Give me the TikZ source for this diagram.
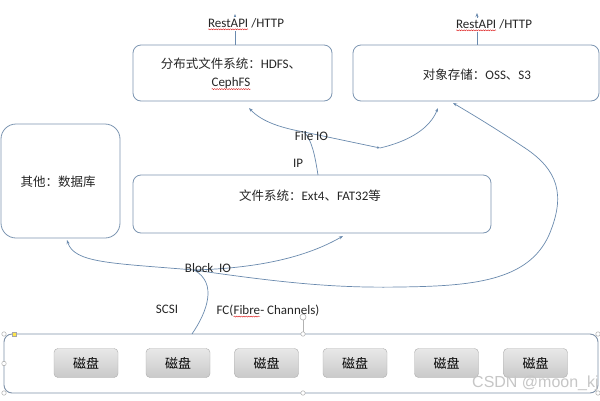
\documentclass[tikz,border=0pt]{standalone}
\usepackage{fontspec}
\setmainfont{Carlito}
\newfontfamily\cjk{Noto Sans CJK SC}
\newfontfamily\wmfont{Liberation Sans}
\usetikzlibrary{arrows.meta,decorations.pathmorphing,calc}
\definecolor{ln}{HTML}{6A8AAE}
\definecolor{bd}{HTML}{7D96B2}
\newcommand\sq[1]{\tikz[baseline=(sqw.base)]{\node[inner sep=0pt,outer sep=0pt](sqw){#1};\draw[red!85!black,line width=0.35pt,decorate,decoration={snake,amplitude=0.55pt,segment length=2.4pt}]([yshift=-2.3pt]sqw.base west)--([yshift=-2.3pt]sqw.base east);}}
\begin{document}
\begin{tikzpicture}[x=1pt,y=-1pt,
  box/.style={draw=bd,line width=0.8pt,rounded corners=8pt,fill=white},
  lbl/.style={font=\fontsize{13}{18}\selectfont,inner sep=0pt,text=black!85},
  cj/.style={font=\cjk\fontsize{12.5}{18}\selectfont,inner sep=0pt,text=black!85},
  plain/.style={draw=ln,line width=0.7pt},
  conn/.style={draw=ln,line width=0.7pt,-{Stealth[length=4pt,width=3pt]}},
  disk/.style={draw=gray!65,rounded corners=4pt,top color=gray!18,bottom color=gray!42,minimum width=64pt,minimum height=29pt,inner sep=0pt,font=\cjk\fontsize{13}{15}\selectfont},
  hnd/.style={circle,draw=gray!75,fill=white,inner sep=0pt,minimum size=4.5pt}]
\useasboundingbox (0,0) rectangle (600,400);
\fill[white] (0,0) rectangle (600,400);

% boxes
\node[box,minimum width=199pt,minimum height=56pt] (hdfs) at (232.5,73) {};
\node[box,minimum width=246pt,minimum height=56pt] (oss) at (476,73) {};
\node[box,rounded corners=15pt,minimum width=119pt,minimum height=114pt] (db) at (60.5,181) {};
\node[box,minimum width=358pt,minimum height=58pt] (fs) at (312,204) {};

\node[lbl,align=center] (hdfst) at (231,74) {{\cjk\fontsize{12.5}{18}\selectfont 分布式文件系统：}HDFS{\cjk\fontsize{12.5}{18}\selectfont 、}\\\sq{CephFS}};
\node[lbl] (osst) at (477,75) {{\cjk\fontsize{12.5}{18}\selectfont 对象存储：}OSS{\cjk\fontsize{12.5}{18}\selectfont 、}S3};
\node[cj] (dbt) at (58,182) {其他：数据库};
\node[lbl] (fst) at (310,196) {{\cjk\fontsize{12.5}{18}\selectfont 文件系统：}Ext4{\cjk\fontsize{12.5}{18}\selectfont 、}FAT32{\cjk\fontsize{12.5}{18}\selectfont 等}};

% RestAPI arrows
\coordinate (up1) at (235,14);
\coordinate (up2) at (477,13);
\draw[conn] (up1 |- hdfs.north) -- (up1);
\draw[conn] (up2 |- oss.north) -- (up2);
\node[lbl,fill=white,inner sep=1pt] (r1) at (246,24) {\sq{RestAPI} /HTTP};
\node[lbl,fill=white,inner sep=1pt] (r2) at (494,25) {\sq{RestAPI} /HTTP};

% bottom storage area
\node[draw=bd!80!gray,line width=0.9pt,rounded corners=8pt,fill=white,minimum width=594pt,minimum height=59pt] (bot) at (301,363.5) {};
\foreach \i/\x in {1/86,2/178,3/266.5,4/355,5/446.5,6/535.5}
  \node[disk] (d\i) at (\x,363) {磁盘};

% handles
\node[hnd] (h1) at (4,334) {};
\node[hnd] (h2) at (4,363.5) {};
\node[hnd] (h3) at (4,393) {};
\node[hnd] (h4) at (303,334) {};
\node[hnd] (h5) at (303,393) {};
\node[hnd] (h6) at (598,334) {};
\node[hnd] (h7) at (598,393) {};
\node[draw=gray!70,fill=yellow!80!orange!70,inner sep=0pt,minimum size=4pt] (ysq) at (14,334) {};
\node[circle,draw=gray!60,line width=0.6pt,inner sep=0pt,minimum size=6pt] (rot) at (303,317) {};
\draw[gray!60,line width=0.5pt] (rot) -- (h4);

% Block IO connectors
\coordinate (hub) at (194,270);
\coordinate (s0) at (192,334);
\coordinate (tDB) at (67,240);
\coordinate (tFS) at (343,236);
\coordinate (tO2) at (453,103);
\draw[plain] (s0) .. controls (207,312) and (218,283) .. (hub);
\draw[conn] (hub) .. controls (110,263) and (74,263) .. (tDB);
\draw[conn] (hub) .. controls (265,268) and (310,255) .. (tFS);
\draw[conn] (hub) .. controls (290,284) and (340,288) .. (400,287)
  .. controls (470,286) and (528,282) .. (549,235)
  .. controls (566,195) and (558,170) .. (525,148)
  .. controls (495,128) and (470,113) .. (tO2);

% File IO connectors
\coordinate (fsTop) at (318,175);
\coordinate (fio) at (304,132);
\coordinate (tH) at (249,108);
\coordinate (mid) at (380,148);
\coordinate (tO1) at (438,108);
\draw[plain] (fsTop) .. controls (315,156) and (312,140) .. (fio);
\draw[conn] (fio) .. controls (282,128) and (262,122) .. (tH);
\draw[draw=ln,line width=0.7pt,-{Stealth[length=3pt,width=2.5pt]}] (fio) -- (mid);
\draw[conn] (mid) .. controls (410,141) and (430,128) .. (tO1);

% labels
\node[lbl] (fiot) at (311.5,136) {File IO};
\node[lbl] (ipt) at (298,163) {IP};
\node[lbl] (bio) at (208,268) {Block\ \ IO};
\node[lbl] (scsi) at (167,309) {SCSI};
\node[lbl] (fc) at (268,311) {FC(\sq{Fibre}- Channels)};

% watermark
\node[font=\wmfont\fontsize{16}{18}\selectfont,text=gray!45,anchor=base west,inner sep=0pt] (wm) at (472,387) {CSDN @moon\_kj};
\end{tikzpicture}
\end{document}
